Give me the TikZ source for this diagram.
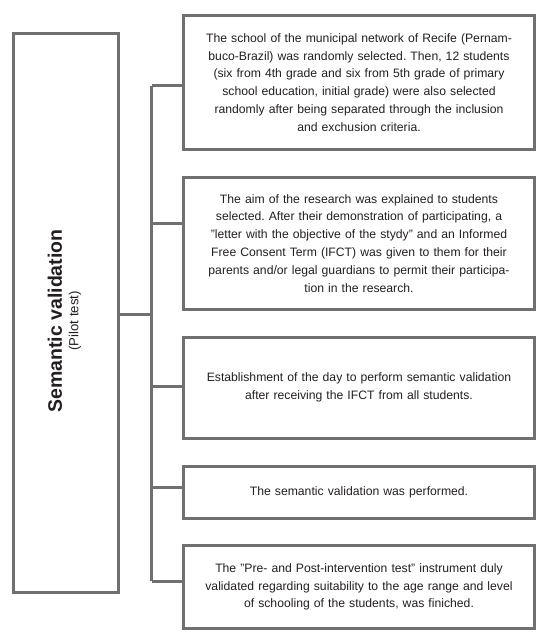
\documentclass[tikz,border=0pt]{standalone}
\usepackage{fontspec}
\setmainfont{Liberation Sans}
\newcommand{\sq}{{\char34}}
\begin{document}
\frenchspacing
\begin{tikzpicture}[x=1pt,y=-1pt,
  linecol/.style={draw=lc, line width=3pt},
  stepbox/.style={linecol, minimum width=351pt, align=center, text width=340pt,
    font=\fontsize{12.2}{17.8}\selectfont, text=tc, inner sep=0pt},
  wire/.style={linecol}]
\definecolor{lc}{HTML}{707070}
\definecolor{tc}{HTML}{231F20}
\useasboundingbox (0,0) rectangle (550,635);
\node[linecol, minimum width=105pt, minimum height=558.5pt, inner sep=0pt] (L) at (66,312.75) {};
\node[rotate=90, font=\bfseries\fontsize{19.5}{20}\selectfont, text=tc, inner sep=0pt] (title) at (55,321) {Semantic validation};
\node[rotate=90, font=\fontsize{13.2}{14}\selectfont, text=tc, inner sep=0pt] (sub) at (75,321) {(Pilot test)};
\node[stepbox, minimum height=134pt] (b1) at (359,82.5) {The school of the municipal network of Recife (Pernam-\\buco-Brazil) was randomly selected. Then, 12 students\\(six from 4th grade and six from 5th grade of primary\\school education, initial grade) were also selected\\randomly after being separated through the inclusion\\and exchusion criteria.};
\node[stepbox, minimum height=131.5pt] (b2) at (359,243.25) {The aim of the research was explained to students\\selected. After their demonstration of participating, a\\\sq letter with the objective of the stydy\sq{} and an Informed\\Free Consent Term (IFCT) was given to them for their\\parents and/or legal guardians to permit their participa-\\tion in the research.};
\node[stepbox, minimum height=101pt] (b3) at (359,387.5) {Establishment of the day to perform semantic validation\\after receiving the IFCT from all students.};
\node[stepbox, minimum height=52pt] (b4) at (359,492) {The semantic validation was performed.};
\node[stepbox, minimum height=82.5pt] (b5) at (359,587) {The \sq Pre- and Post-intervention test\sq{} instrument duly\\validated regarding suitability to the age range and level\\of schooling of the students, was finiched.};
\coordinate (t1) at (151.5,85.5);
\coordinate (t2) at (151.5,223);
\coordinate (t3) at (151.5,386);
\coordinate (t4) at (151.5,487);
\coordinate (t5) at (151.5,581);
\coordinate (tm) at (151.5,314);
\draw[wire] (t1) -- (t5);
\draw[wire] (t1) -- (t1 -| b1.west);
\draw[wire] (t2) -- (t2 -| b2.west);
\draw[wire] (t3) -- (t3 -| b3.west);
\draw[wire] (t4) -- (t4 -| b4.west);
\draw[wire] (t5) -- (t5 -| b5.west);
\draw[wire] (tm -| L.east) -- (tm);
\end{tikzpicture}
\end{document}
